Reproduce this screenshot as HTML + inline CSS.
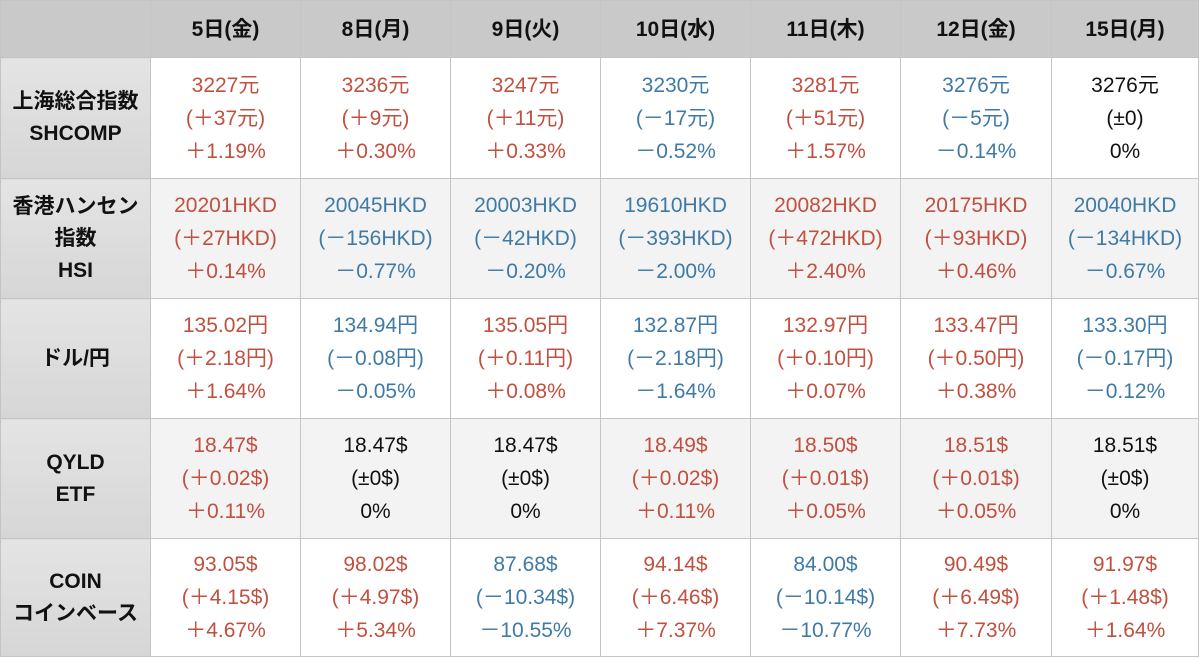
<!DOCTYPE html>
<html><head><meta charset="utf-8"><style>
body{margin:0;width:1200px;height:659px;background:#fff;overflow:hidden;font-family:"Liberation Sans","Noto Sans CJK JP",sans-serif}
table{position:absolute;left:0;top:0;border-collapse:collapse;table-layout:fixed;width:1198px}
td,th{border:1px solid #c4c4c4;text-align:center;vertical-align:middle;padding:0;font-size:21px;line-height:33px;color:#111}
th{background:#c9c9c9;height:56px;font-weight:bold;font-size:21px}
td.h{background:linear-gradient(#e4e4e4,#d6d6d6);font-weight:bold;font-size:21px;line-height:32px}
tr{height:120px}
tr.alt td{background:#f3f3f3}
tr.alt td.h{background:linear-gradient(#e4e4e4,#d6d6d6)}
.r{color:#c0503f}.b{color:#3f7aa6}.k{color:#111}
</style></head><body>
<table>
<colgroup><col style="width:150px"><col style="width:150px"><col style="width:150px"><col style="width:150px"><col style="width:150px"><col style="width:150px"><col style="width:151px"><col style="width:147px"></colgroup>
<tr style="height:57px"><th></th><th>5日(金)</th><th>8日(月)</th><th>9日(火)</th><th>10日(水)</th><th>11日(木)</th><th>12日(金)</th><th>15日(月)</th></tr>
<tr style="height:121px"><td class="h">上海総合指数<br>SHCOMP</td>
<td class="r">3227元<br>(＋37元)<br>＋1.19%</td><td class="r">3236元<br>(＋9元)<br>＋0.30%</td><td class="r">3247元<br>(＋11元)<br>＋0.33%</td><td class="b">3230元<br>(－17元)<br>－0.52%</td><td class="r">3281元<br>(＋51元)<br>＋1.57%</td><td class="b">3276元<br>(－5元)<br>－0.14%</td><td class="k">3276元<br>(±0)<br>0%</td></tr>
<tr class="alt"><td class="h">香港ハンセン<br>指数<br>HSI</td>
<td class="r">20201HKD<br>(＋27HKD)<br>＋0.14%</td><td class="b">20045HKD<br>(－156HKD)<br>－0.77%</td><td class="b">20003HKD<br>(－42HKD)<br>－0.20%</td><td class="b">19610HKD<br>(－393HKD)<br>－2.00%</td><td class="r">20082HKD<br>(＋472HKD)<br>＋2.40%</td><td class="r">20175HKD<br>(＋93HKD)<br>＋0.46%</td><td class="b">20040HKD<br>(－134HKD)<br>－0.67%</td></tr>
<tr><td class="h">ドル/円</td>
<td class="r">135.02円<br>(＋2.18円)<br>＋1.64%</td><td class="b">134.94円<br>(－0.08円)<br>－0.05%</td><td class="r">135.05円<br>(＋0.11円)<br>＋0.08%</td><td class="b">132.87円<br>(－2.18円)<br>－1.64%</td><td class="r">132.97円<br>(＋0.10円)<br>＋0.07%</td><td class="r">133.47円<br>(＋0.50円)<br>＋0.38%</td><td class="b">133.30円<br>(－0.17円)<br>－0.12%</td></tr>
<tr class="alt"><td class="h">QYLD<br>ETF</td>
<td class="r">18.47$<br>(＋0.02$)<br>＋0.11%</td><td class="k">18.47$<br>(±0$)<br>0%</td><td class="k">18.47$<br>(±0$)<br>0%</td><td class="r">18.49$<br>(＋0.02$)<br>＋0.11%</td><td class="r">18.50$<br>(＋0.01$)<br>＋0.05%</td><td class="r">18.51$<br>(＋0.01$)<br>＋0.05%</td><td class="k">18.51$<br>(±0$)<br>0%</td></tr>
<tr style="height:118px"><td class="h">COIN<br>コインベース</td>
<td class="r">93.05$<br>(＋4.15$)<br>＋4.67%</td><td class="r">98.02$<br>(＋4.97$)<br>＋5.34%</td><td class="b">87.68$<br>(－10.34$)<br>－10.55%</td><td class="r">94.14$<br>(＋6.46$)<br>＋7.37%</td><td class="b">84.00$<br>(－10.14$)<br>－10.77%</td><td class="r">90.49$<br>(＋6.49$)<br>＋7.73%</td><td class="r">91.97$<br>(＋1.48$)<br>＋1.64%</td></tr>
</table>
</body></html>
